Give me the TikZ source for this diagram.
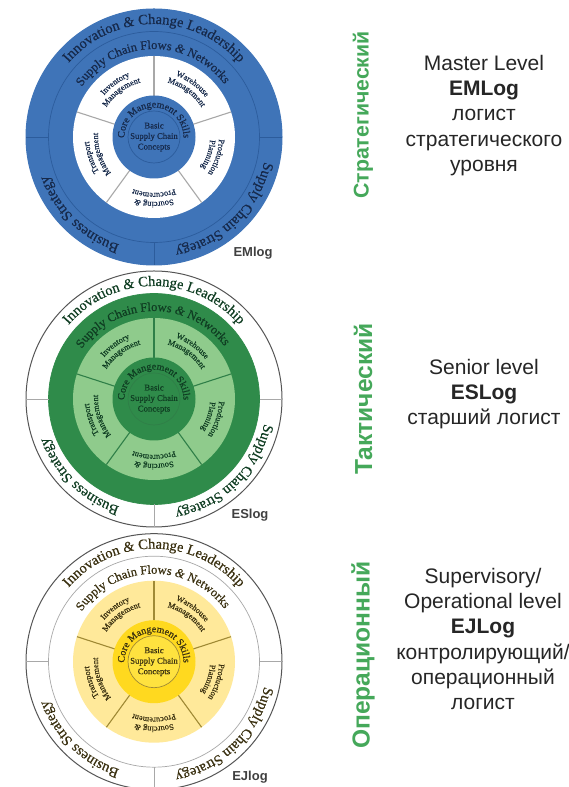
\documentclass[tikz,border=0pt]{standalone}
\usepackage{fontspec}
\setmainfont{Liberation Serif}[FakeBold=0.45]
\newfontfamily\sansf{Liberation Sans}
\usetikzlibrary{decorations.text}
\definecolor{blueA}{HTML}{3F74B8}
\definecolor{blueL}{HTML}{2C5C9C}
\definecolor{navy}{HTML}{16294A}
\definecolor{greenA}{HTML}{2F8B4A}
\definecolor{greenB}{HTML}{8FCB8C}
\definecolor{greenL}{HTML}{2F7F48}
\definecolor{greenT}{HTML}{0F3D22}
\definecolor{yelA}{HTML}{FFE99A}
\definecolor{yelB}{HTML}{FFD91F}
\definecolor{yelC}{HTML}{FFE23F}
\definecolor{yelL}{HTML}{A08A35}
\definecolor{yelT}{HTML}{3A3010}
\definecolor{labelgreen}{HTML}{45A85A}
\definecolor{rimgray}{HTML}{555555}
\definecolor{divgray}{HTML}{A8A8A8}
\newcommand{\etsign}{{\itshape\&}}
\newcommand{\fA}{\fontsize{14.5}{14.5}\selectfont}
\newcommand{\fB}{\fontsize{12.5}{12.5}\selectfont}
\newcommand{\fC}{\fontsize{10}{10}\selectfont}
\newcommand{\fD}{\fontsize{8.3}{8.3}\selectfont}
\newcommand{\fE}{\fontsize{8.7}{10.5}\selectfont}
% arc text, clockwise so that letter tops face outwards: {radius}{mid angle}{half span}{font}{text}
\newcommand{\arctext}[5]{%
  \path[decorate,decoration={text along path,text align=center,
    text color=wText,text={|#4|#5}}]
    (#2+#3:#1) arc[start angle=#2+#3,end angle=#2-#3,radius=#1];}
% one wheel: {name}{centre y}
\newcommand{\wheelA}[2]{%
\begin{scope}[shift={(154,#2)}]
  \coordinate (#1c) at (0,0);
  \fill[wOuter] (#1c) circle[radius=128];
  \draw[rim,draw=wRim] (#1c) circle[radius=128];
  \fill[wRing] (#1c) circle[radius=105.5];
  \draw[thin line,draw=wRingL] (#1c) circle[radius=105.5];
  \fill[wSeg] (#1c) circle[radius=81];
  \foreach \a in {0,180,270}{\draw[thin line,draw=wOuterDiv] (\a:105.5) -- (\a:128);}
  \foreach \a in {90,18,-54,-126,162}{\draw[divider,draw=wDiv] (\a:41) -- (\a:81);}
  \fill[wCore] (#1c) circle[radius=41.5];
  \fill[wInner] (#1c) circle[radius=26];
  \draw[thin line,draw=wInnerL] (#1c) circle[radius=26];
  \arctext{113}{90}{75}{\fA}{Innovation \etsign\ Change Leadership}
  \arctext{113}{-46}{44}{\fA}{Supply Chain Strategy}
  \arctext{113}{-134}{44}{\fA}{Business Strategy}
  \arctext{88}{91}{75}{\fB}{Supply Chain Flows \etsign\ Networks}
  \arctext{29.5}{90}{110}{\fC}{Core Mangement Skills}
  \arctext{65}{126}{32}{\fD}{Inventory}
  \arctext{56}{126}{38}{\fD}{Management}
  \arctext{65}{54}{32}{\fD}{Warehouse}
  \arctext{56}{54}{38}{\fD}{Management}
  \arctext{65}{-18}{32}{\fD}{Production}
  \arctext{56}{-18}{38}{\fD}{Planning}
  \arctext{65}{-90}{32}{\fD}{Sourcing \etsign}
  \arctext{56}{-90}{38}{\fD}{Procurement}
  \arctext{65}{198}{32}{\fD}{Transport}
  \arctext{56}{198}{38}{\fD}{Management}
  \node[centre text,text=wText] (#1basic) at (0,0) {Basic\\Supply Chain\\Concepts};
\end{scope}}
\tikzset{
  rim/.style={line width=1pt},
  thin line/.style={line width=0.7pt},
  divider/.style={line width=1.1pt},
  centre text/.style={font=\fE,align=center,inner sep=0pt},
  level tag/.style={font=\sansf\bfseries\fontsize{13}{13}\selectfont,text=black!75,inner sep=0pt},
  side title/.style={font=\sansf\bfseries\fontsize{#1}{#1}\selectfont,text=labelgreen,rotate=90,inner sep=0pt},
  side note/.style={font=\sansf\fontsize{21}{25.3}\selectfont,text=black!85,align=center,inner sep=0pt}
}
\begin{document}
\begin{tikzpicture}[x=1pt,y=1pt]
\useasboundingbox (0,0) rectangle (568,787);
\fill[white] (0,0) rectangle (568,787);
% --- blue wheel
\colorlet{wOuter}{blueA}\colorlet{wRim}{blueA}\colorlet{wRing}{blueA}\colorlet{wRingL}{blueL}
\colorlet{wSeg}{white}\colorlet{wDiv}{divgray}\colorlet{wOuterDiv}{blueL}\colorlet{wInnerL}{blueL}
\colorlet{wCore}{blueA}\colorlet{wInner}{blueA}\colorlet{wText}{navy}
\wheelA{a}{650}
\node[level tag] (atag) at (253,534) {EMlog};
% --- green wheel
\colorlet{wOuter}{white}\colorlet{wRim}{rimgray}\colorlet{wRing}{greenA}\colorlet{wRingL}{greenA}
\colorlet{wSeg}{greenB}\colorlet{wDiv}{greenL}\colorlet{wOuterDiv}{divgray}\colorlet{wInnerL}{greenL}
\colorlet{wCore}{greenA}\colorlet{wInner}{greenA}\colorlet{wText}{greenT}
\wheelA{b}{388}
\node[level tag] (btag) at (250,272) {ESlog};
% --- yellow wheel
\colorlet{wOuter}{white}\colorlet{wRim}{rimgray}\colorlet{wRing}{white}\colorlet{wRingL}{divgray}
\colorlet{wSeg}{yelA}\colorlet{wDiv}{yelL}\colorlet{wOuterDiv}{divgray}\colorlet{wInnerL}{yelL}
\colorlet{wCore}{yelB}\colorlet{wInner}{yelC}\colorlet{wText}{yelT}
\wheelA{c}{125.3}
\node[level tag] (ctag) at (250,10) {EJlog};
% --- side titles
\node[side title=21.3] (t1) at (363,672) {Стратегический};
\node[side title=24.6] (t2) at (363,388) {Тактический};
\node[side title=24.6] (t3) at (363,132) {Операционный};
% --- side notes
\node[side note] (n1) at (484,671.5) {Master Level\\\textbf{EMLog}\\логист\\стратегического\\уровня};
\node[side note] (n2) at (484,393) {Senior level\\\textbf{ESLog}\\старший логист};
\node[side note] (n3) at (483,148) {Supervisory/\\Operational level\\\textbf{EJLog}\\контролирующий/\\операционный\\логист};
\end{tikzpicture}
\end{document}
